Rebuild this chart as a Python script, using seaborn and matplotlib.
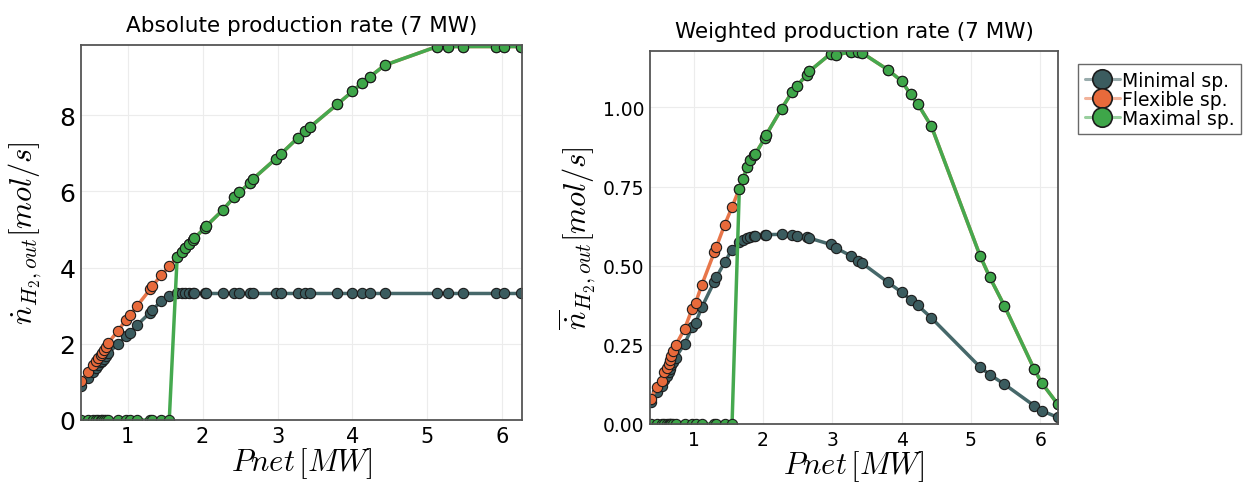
import matplotlib
matplotlib.use("Agg")
import matplotlib.pyplot as plt
import seaborn as sns
from matplotlib.lines import Line2D
from matplotlib.ticker import FormatStrFormatter

# ---------------- data ----------------
pnet = [0.38, 0.47, 0.54, 0.58, 0.61, 0.64, 0.66, 0.68, 0.71, 0.74,
        0.87, 0.98, 1.03, 1.12, 1.30, 1.33, 1.45, 1.555, 1.66, 1.72,
        1.77, 1.82, 1.87, 1.89, 2.03, 2.05, 2.27, 2.42, 2.49, 2.63,
        2.67, 2.98, 3.05, 3.27, 3.37, 3.43, 3.80, 4.00, 4.13, 4.23,
        4.43, 5.13, 5.27, 5.48, 5.91, 6.02, 6.25]

abs_minimal = [0.88, 1.11, 1.27, 1.37, 1.44, 1.51, 1.56, 1.61, 1.68, 1.75,
               2.00, 2.20, 2.29, 2.48, 2.82, 2.89, 3.12, 3.26, 3.32, 3.32,
               3.32, 3.32, 3.32, 3.32, 3.32, 3.32, 3.32, 3.32, 3.32, 3.32,
               3.32, 3.32, 3.32, 3.32, 3.32, 3.32, 3.32, 3.32, 3.32, 3.32,
               3.32, 3.32, 3.32, 3.32, 3.32, 3.32, 3.32]
abs_flexible = [1.02, 1.27, 1.44, 1.55, 1.63, 1.71, 1.77, 1.83, 1.92, 2.02,
                2.34, 2.63, 2.75, 2.98, 3.43, 3.52, 3.80, 4.04, 4.27, 4.42,
                4.52, 4.62, 4.73, 4.77, 5.04, 5.09, 5.51, 5.85, 5.97, 6.22,
                6.32, 6.86, 6.99, 7.40, 7.58, 7.68, 8.29, 8.62, 8.85, 9.00,
                9.31, 9.80, 9.80, 9.80, 9.80, 9.80, 9.80]
abs_maximal = [0.0, 0.0, 0.0, 0.0, 0.0, 0.0, 0.0, 0.0, 0.0, 0.0,
               0.0, 0.0, 0.0, 0.0, 0.0, 0.0, 0.0, 0.0, 4.27, 4.42,
               4.52, 4.62, 4.73, 4.77, 5.04, 5.09, 5.51, 5.85, 5.97, 6.22,
               6.32, 6.86, 6.99, 7.40, 7.58, 7.68, 8.29, 8.62, 8.85, 9.00,
               9.31, 9.80, 9.80, 9.80, 9.80, 9.80, 9.80]

w_minimal = [0.068, 0.100, 0.120, 0.140, 0.152, 0.165, 0.175, 0.185, 0.197, 0.210,
             0.253, 0.305, 0.320, 0.369, 0.450, 0.464, 0.511, 0.551, 0.574, 0.582,
             0.587, 0.590, 0.593, 0.594, 0.597, 0.598, 0.599, 0.597, 0.595, 0.590,
             0.587, 0.567, 0.556, 0.531, 0.516, 0.508, 0.448, 0.416, 0.393, 0.375,
             0.335, 0.180, 0.156, 0.126, 0.058, 0.042, 0.021]
w_flexible = [0.079, 0.116, 0.137, 0.163, 0.176, 0.190, 0.203, 0.216, 0.229, 0.248,
              0.300, 0.364, 0.383, 0.440, 0.543, 0.560, 0.630, 0.685, 0.743, 0.775,
              0.812, 0.835, 0.848, 0.853, 0.903, 0.914, 0.996, 1.048, 1.067, 1.103,
              1.114, 1.170, 1.166, 1.175, 1.174, 1.172, 1.119, 1.083, 1.041, 1.012,
              0.940, 0.532, 0.464, 0.374, 0.174, 0.130, 0.063]
w_maximal = [0.0, 0.0, 0.0, 0.0, 0.0, 0.0, 0.0, 0.0, 0.0, 0.0,
             0.0, 0.0, 0.0, 0.0, 0.0, 0.0, 0.0, 0.0, 0.743, 0.775,
             0.812, 0.835, 0.848, 0.853, 0.903, 0.914, 0.996, 1.048, 1.067, 1.103,
             1.114, 1.170, 1.166, 1.175, 1.174, 1.172, 1.119, 1.083, 1.041, 1.012,
             0.940, 0.532, 0.464, 0.374, 0.174, 0.130, 0.063]

series_names = ["Minimal sp.", "Flexible sp.", "Maximal sp."]
marker_colors = ["#3b5c5f", "#e86a3b", "#3ea649"]
line_colors = ["#46686a", "#e8764a", "#45a94f"]

titles = ["Absolute production rate (7 MW)", "Weighted production rate (7 MW)"]
ylabels = [r"$\dot{n}_{H_2,out}[mol/s]$", r"$\overline{\dot{n}}_{H_2,out}[mol/s]$"]
xlabel = r"$Pnet\,[MW]$"

# ---------------- style ----------------
sns.set_theme(style="white")
plt.rcParams["font.family"] = ["DejaVu Sans"]
plt.rcParams["mathtext.fontset"] = "cm"
plt.rcParams["text.color"] = "black"
plt.rcParams["axes.labelcolor"] = "black"
plt.rcParams["xtick.color"] = "black"
plt.rcParams["ytick.color"] = "black"

fig = plt.figure(figsize=(12.48, 4.89), dpi=100)
ax1 = fig.add_axes([81 / 1248, 1 - 421 / 489, 441 / 1248, 375 / 489])
ax2 = fig.add_axes([650 / 1248, 1 - 425 / 489, 408 / 1248, 373 / 489])

datasets = [
    (ax1, [abs_minimal, abs_flexible, abs_maximal]),
    (ax2, [w_minimal, w_flexible, w_maximal]),
]

for ax, ys in datasets:
    for vals, mc, lc in zip(ys, marker_colors, line_colors):
        sns.lineplot(x=pnet, y=vals, ax=ax, color=lc, linewidth=2.5,
                     marker="o", markersize=7.4, markerfacecolor=mc,
                     markeredgecolor="#1c1c1c", markeredgewidth=0.8,
                     estimator=None, sort=False, legend=False)
    ax.grid(True, color="#ececec", linewidth=0.8)
    ax.set_axisbelow(True)
    for sp in ax.spines.values():
        sp.set_color("#555555")
        sp.set_linewidth(1.3)
    ax.tick_params(direction="in", length=4, color="#555555", width=0.8,
                   labelcolor="black")

# left axes
ax1.set_xlim(0.377, 6.263)
ax1.set_ylim(0, 9.84)
ax1.set_xticks([1, 2, 3, 4, 5, 6])
ax1.set_yticks([0, 2, 4, 6, 8])
ax1.tick_params(axis="y", labelsize=18, pad=4)
ax1.tick_params(axis="x", labelsize=15, pad=4)
ax1.set_title(titles[0], fontsize=15.5, pad=10)
ax1.set_xlabel(xlabel, fontsize=22, labelpad=0)
ax1.set_ylabel(ylabels[0], fontsize=22)
ax1.yaxis.set_label_coords(-0.085, 0.5)

# right axes
ax2.set_xlim(0.372, 6.255)
ax2.set_ylim(0, 1.178)
ax2.set_xticks([1, 2, 3, 4, 5, 6])
ax2.set_yticks([0, 0.25, 0.5, 0.75, 1.0])
ax2.yaxis.set_major_formatter(FormatStrFormatter("%.2f"))
ax2.tick_params(axis="both", labelsize=13.5, pad=4)
ax2.set_title(titles[1], fontsize=15.5, pad=10)
ax2.set_xlabel(xlabel, fontsize=22, labelpad=0)
ax2.set_ylabel(ylabels[1], fontsize=22)
ax2.yaxis.set_label_coords(-0.128, 0.5)

# legend
handles = []
for mc, lc in zip(marker_colors, line_colors):
    r, g, b = matplotlib.colors.to_rgb(lc)
    handles.append(Line2D([0], [0], color=(r, g, b, 0.55), linewidth=2.2,
                          marker="o", markersize=14, markerfacecolor=mc,
                          markeredgecolor="#1c1c1c", markeredgewidth=1.2))
leg = fig.legend(handles, series_names, loc="upper left",
                 bbox_to_anchor=(1078 / 1248, 1 - 65 / 489),
                 frameon=True, fancybox=False, fontsize=13.5,
                 handlelength=1.9, handletextpad=0.1, labelspacing=0.0,
                 borderpad=0.35, borderaxespad=0)
leg.get_frame().set_edgecolor("#444444")
leg.get_frame().set_linewidth(1.0)

fig.savefig("out.png", dpi=100)
